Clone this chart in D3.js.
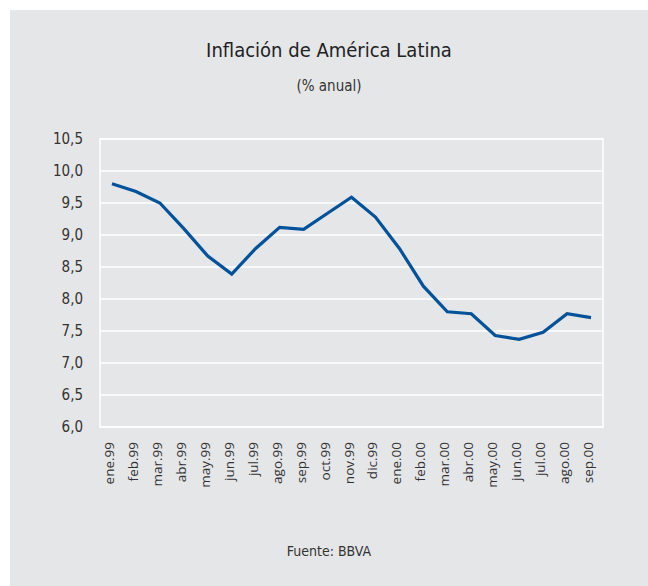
<!DOCTYPE html>
<html><head><meta charset="utf-8">
<script src="https://cdn.jsdelivr.net/npm/d3@7"></script>
<style>
html,body{margin:0;padding:0;background:#fff;}
</style></head>
<body>
<svg id="c" width="648" height="586"></svg>
<script>
const categories = ["ene.99","feb.99","mar.99","abr.99","may.99","jun.99","jul.99","ago.99","sep.99","oct.99","nov.99","dic.99","ene.00","feb.00","mar.00","abr.00","may.00","jun.00","jul.00","ago.00","sep.00"];
const inflation = [9.80,9.68,9.50,9.10,8.67,8.39,8.79,9.12,9.09,9.34,9.59,9.28,8.79,8.20,7.80,7.77,7.43,7.37,7.48,7.77,7.71];
const yTicks = [6.0,6.5,7.0,7.5,8.0,8.5,9.0,9.5,10.0,10.5];
const title = "Inflación de América Latina";
const subtitle = "(% anual)";
const source = "Fuente: BBVA";

const svg = d3.select("#c");
const bg = "#e5e6e8";
svg.append("rect").attr("x",10).attr("y",10).attr("width",638).attr("height",576).attr("fill",bg);

const m = {l:100, r:603, t:139, b:427};
const x = d3.scaleBand().domain(categories).range([m.l, m.r]).paddingInner(0).paddingOuter(0);
const y = d3.scaleLinear().domain([6,10.5]).range([m.b, m.t]);

const condensed = "'Liberation Sans Narrow','Arial Narrow','DejaVu Sans Condensed',sans-serif";

// grid
svg.append("g").selectAll("line").data(yTicks).join("line")
  .attr("x1",m.l).attr("x2",m.r)
  .attr("y1",d=>y(d)).attr("y2",d=>y(d))
  .attr("stroke","#ffffff").attr("stroke-width",1.5);
// frame sides
svg.append("rect").attr("x",m.l).attr("y",m.t).attr("width",m.r-m.l).attr("height",m.b-m.t)
  .attr("fill","none").attr("stroke","#fff").attr("stroke-width",1.5);

// y axis
const yAxis = d3.axisLeft(y).tickValues(yTicks).tickSize(0).tickPadding(17)
  .tickFormat(d=>d3.format(".1f")(d).replace(".",","));
const gy = svg.append("g").attr("transform",`translate(${m.l},0)`).call(yAxis);
gy.select(".domain").remove();
gy.selectAll("text").attr("font-family",condensed).attr("font-size",15).attr("fill","#333");

// x axis
const xAxis = d3.axisBottom(x).tickSize(0).tickPadding(0);
const gx = svg.append("g").attr("transform",`translate(0,${m.b})`).call(xAxis);
gx.select(".domain").remove();
gx.selectAll("text")
  .attr("font-family","'Open Sans',sans-serif").attr("font-size",13.5).attr("fill","#333")
  .attr("text-anchor","end").attr("dy",null).attr("y",0)
  .attr("transform","translate(-3,15) rotate(-90)")
  .attr("dominant-baseline","central");

// line
const line = d3.line().x((d,i)=>x(categories[i])+x.bandwidth()/2).y(d=>y(d));
svg.append("path").datum(inflation).attr("d",line)
  .attr("fill","none").attr("stroke","#00529b").attr("stroke-width",3.2)
  .attr("stroke-linejoin","miter");

// titles
svg.append("text").attr("x",329).attr("y",57).attr("text-anchor","middle")
  .attr("font-family",condensed).attr("font-size",20).attr("fill","#222").text(title);
svg.append("text").attr("x",329).attr("y",91).attr("text-anchor","middle")
  .attr("font-family",condensed).attr("font-size",15).attr("fill","#333").text(subtitle);
svg.append("text").attr("x",329).attr("y",556).attr("text-anchor","middle")
  .attr("font-family",condensed).attr("font-size",14).attr("fill","#333").text(source);
</script>
</body></html>
